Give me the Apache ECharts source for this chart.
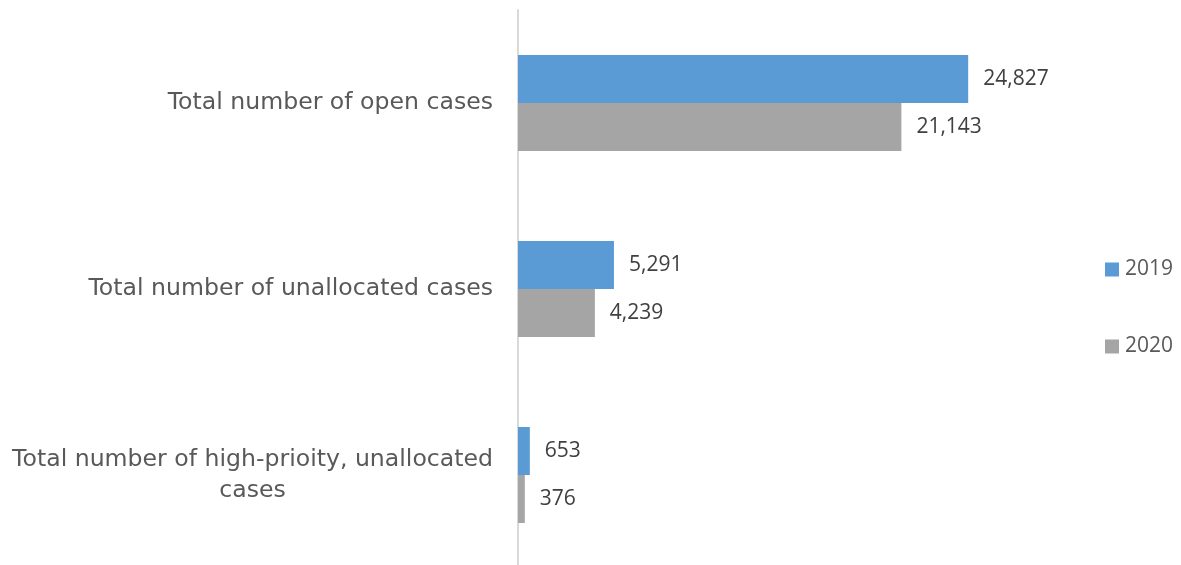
<!DOCTYPE html>
<html>
<head>
<meta charset="utf-8">
<script src="https://cdn.jsdelivr.net/npm/echarts@6/dist/echarts.min.js"></script>
<style>
  html, body { margin: 0; padding: 0; background: #ffffff; overflow: hidden; }
  #chart { width: 1181px; height: 570px; }
</style>
</head>
<body>
<div id="chart"></div>
<script>
// Case counts by year
const categories = [
  'Total number of open cases',
  'Total number of unallocated cases',
  'Total number of high-prioity, unallocated\ncases'
];
const seriesNames = ['2019', '2020'];
const values2019 = [24827, 5291, 653];
const values2020 = [21143, 4239, 376];
const colors = ['#5B9BD5', '#A5A5A5'];

const chart = echarts.init(document.getElementById('chart'));

function barSeries(name, data, color) {
  return {
    name: name,
    type: 'bar',
    data: data,
    barWidth: 48,
    barGap: '0%',
    itemStyle: { color: color },
    label: {
      show: true,
      position: 'right',
      distance: 15,
      color: '#404040',
      fontFamily: 'Open Sans',
      fontSize: 21,
      formatter: p => p.value.toLocaleString('en-US')
    }
  };
}

chart.setOption({
  animation: false,
  backgroundColor: '#ffffff',
  grid: { left: 518, right: 119, top: 10, bottom: 2, containLabel: false },
  legend: {
    orient: 'vertical',
    left: 1100,
    top: 254,
    itemWidth: 14,
    itemHeight: 14,
    itemGap: 56,
    icon: 'rect',
    data: seriesNames,
    textStyle: { color: '#595959', fontFamily: 'Open Sans', fontSize: 21, padding: [0, 0, 0, 1] }
  },
  xAxis: {
    type: 'value',
    min: 0,
    max: 30000,
    show: false
  },
  yAxis: {
    type: 'category',
    inverse: true,
    data: categories,
    axisLine: { show: true, lineStyle: { color: '#d9d9d9', width: 2 } },
    axisTick: { show: false },
    splitLine: { show: false },
    axisLabel: {
      margin: 25,
      align: 'right',
      color: '#595959',
      fontFamily: 'DejaVu Sans',
      fontSize: 23.6,
      lineHeight: 31,
      formatter: v => v.split('\n').map(s => '{c|' + s + '}').join('\n'),
      rich: {
        c: { align: 'center', color: '#595959', fontFamily: 'DejaVu Sans', fontSize: 23.6, lineHeight: 31 }
      }
    }
  },
  series: [
    barSeries(seriesNames[0], values2019, colors[0]),
    barSeries(seriesNames[1], values2020, colors[1])
  ]
});
</script>
</body>
</html>
